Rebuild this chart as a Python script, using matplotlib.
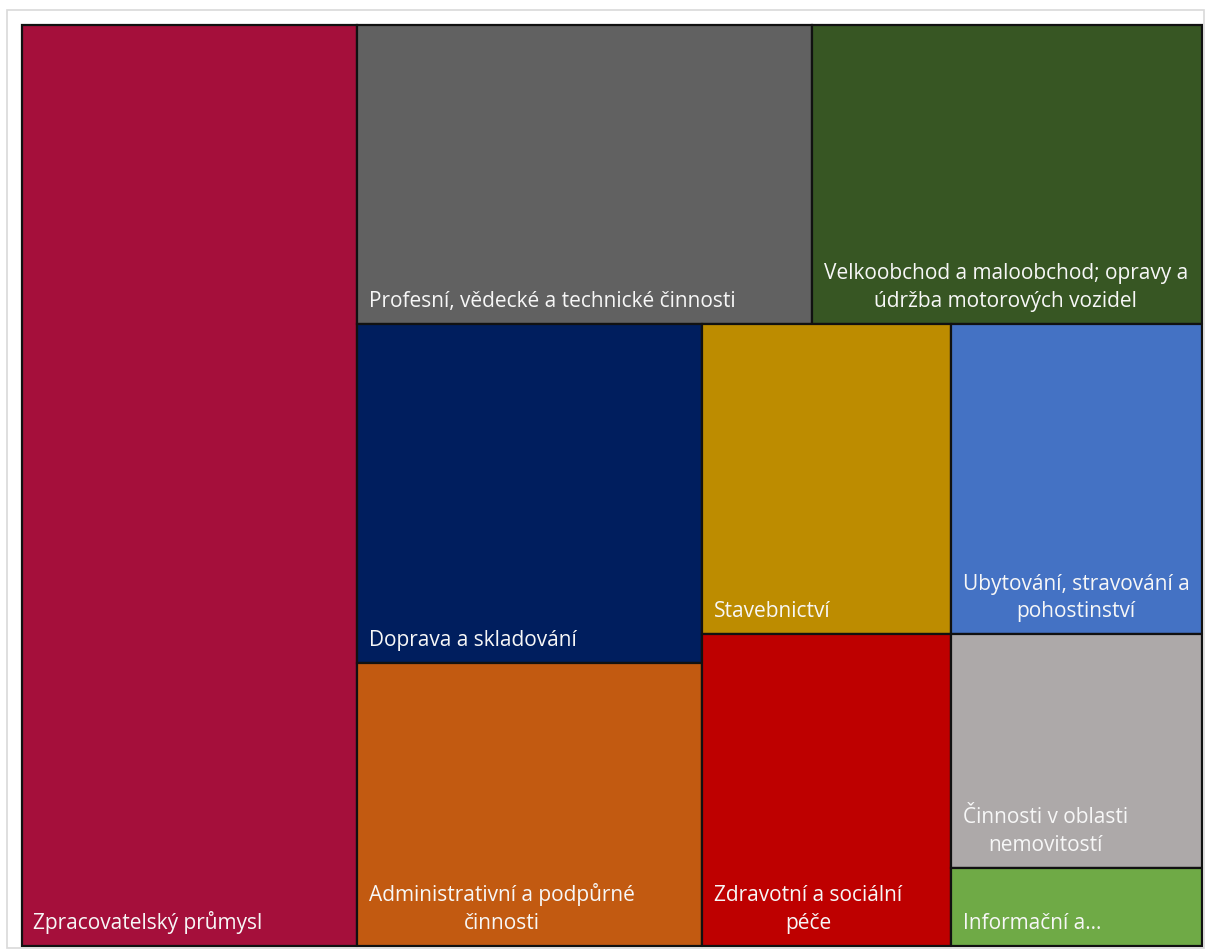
import matplotlib
matplotlib.use("Agg")
import matplotlib.pyplot as plt
from matplotlib.patches import Rectangle

# ---- data ----
categories = [
    "Zpracovatelský průmysl",
    "Profesní, vědecké a technické činnosti",
    "Velkoobchod a maloobchod; opravy a údržba motorových vozidel",
    "Doprava a skladování",
    "Administrativní a podpůrné činnosti",
    "Stavebnictví",
    "Zdravotní a sociální péče",
    "Ubytování, stravování a pohostinství",
    "Činnosti v oblasti nemovitostí",
    "Informační a komunikační činnosti",
]
display_labels = [
    "Zpracovatelský průmysl",
    "Profesní, vědecké a technické činnosti",
    "Velkoobchod a maloobchod; opravy a\núdržba motorových vozidel",
    "Doprava a skladování",
    "Administrativní a podpůrné\nčinnosti",
    "Stavebnictví",
    "Zdravotní a sociální\npéče",
    "Ubytování, stravování a\npohostinství",
    "Činnosti v oblasti\nnemovitostí",
    "Informační a…",
]
values = [28.46, 12.50, 10.73, 10.76, 8.95, 7.11, 7.13, 7.17, 5.40, 1.79]
colors = ["#A50F3B", "#616161", "#375623", "#001E5E", "#C25A11",
          "#BD8C00", "#BE0000", "#4472C4", "#ADA9A9", "#6FAA46"]

# layout structure (Excel-like treemap grouping), by category index
structure = ('h', [0, ('v', [('h', [1, 2]),
                             ('h', [('v', [3, 4]), ('v', [5, 6]), ('v', [7, 8, 9])])])])


def node_sum(node):
    if isinstance(node, int):
        return values[node]
    return sum(node_sum(c) for c in node[1])


rects = {}


def layout(node, x, y, w, h):
    if isinstance(node, int):
        rects[node] = (x, y, w, h)
        return
    direction, children = node
    total = node_sum(node)
    for c in children:
        f = node_sum(c) / total
        if direction == 'h':
            layout(c, x, y, w * f, h)
            x += w * f
        else:
            layout(c, x, y, w, h * f)
            y += h * f


layout(structure, 0.0, 0.0, 1.0, 1.0)

W, H = 1206, 950
fig = plt.figure(figsize=(W / 100, H / 100), dpi=100)
fig.patch.set_facecolor("white")

# outer light frame
fig.patches.append(Rectangle((7 / W, 2 / H), (1204 - 7) / W, (940 - 2) / H,
                             transform=fig.transFigure, fill=False,
                             edgecolor="#D9D9D9", linewidth=1.2))

ax = fig.add_axes([21.5 / W, (H - 945.5) / H, 1180.5 / W, 921 / H])
ax.set_xlim(0, 1)
ax.set_ylim(1, 0)
ax.axis("off")

for i, (x, y, w, h) in rects.items():
    ax.add_patch(Rectangle((x, y), w, h, facecolor=colors[i],
                           edgecolor="#111111", linewidth=1.6, clip_on=False))
    ax.annotate(display_labels[i], xy=(x, y + h), xytext=(8.5, 8.5),
                textcoords="offset points", ha="left", va="bottom",
                multialignment="center", color="#F7F7F7",
                fontsize=15, family=["Open Sans", "DejaVu Sans"],
                linespacing=1.42)

fig.savefig("out.png", dpi=100)
